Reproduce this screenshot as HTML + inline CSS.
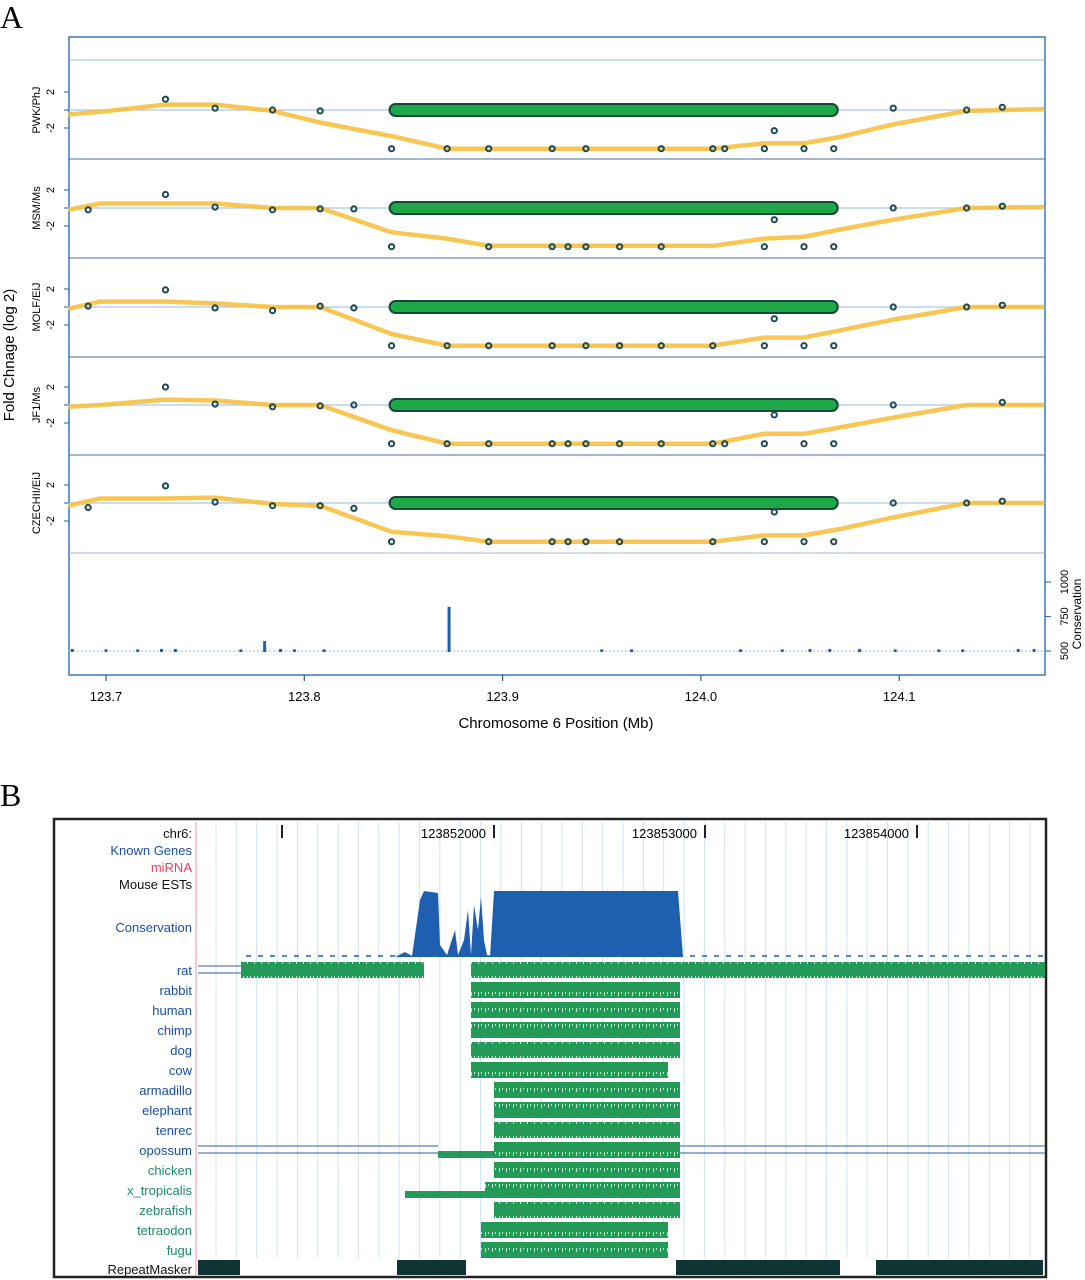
<!DOCTYPE html>
<html><head><meta charset="utf-8"><style>
html,body{margin:0;padding:0;background:#fff;}
svg{display:block;font-family:"Liberation Sans",sans-serif;}
</style></head><body>
<svg id="fig" width="1085" height="1280" viewBox="0 0 1085 1280" xmlns="http://www.w3.org/2000/svg">
<defs>
<pattern id="jag" width="7" height="16" patternUnits="userSpaceOnUse">
<rect width="7" height="16" fill="#239a58"/>
<rect x="2" y="0" width="1" height="4" fill="#bfe3cc"/>
<rect x="5" y="0" width="1" height="2" fill="#bfe3cc"/>
</pattern>
</defs>
<text x="0" y="28" font-family="Liberation Serif,serif" font-size="32">A</text>
<text x="0" y="806" font-family="Liberation Serif,serif" font-size="32">B</text>
<g id="gA"></g>
<g id="gB"></g>
</svg>
<script>
// ---------- Panel A data ----------
const strains = ["PWK/PhJ","MSM/Ms","MOLF/EiJ","JF1/Ms","CZECHII/EiJ"];
const positions = [123.691,123.730,123.755,123.784,123.808,123.825,123.844,123.872,123.893,123.925,123.933,123.942,123.959,123.980,124.006,124.012,124.032,124.037,124.052,124.067,124.097,124.134,124.152];
const foldPWK   = [null,1.2,0.2,0,-0.1,null,-4.3,-4.3,-4.3,-4.3,null,-4.3,null,-4.3,-4.3,-4.3,-4.3,-2.3,-4.3,-4.3,0.2,0,0.3];
const foldMSM   = [-0.2,1.5,0.1,-0.2,-0.1,-0.1,-4.3,null,-4.3,-4.3,-4.3,-4.3,-4.3,-4.3,null,null,-4.3,-1.3,-4.3,-4.3,0,0,0.2];
const foldMOLF  = [0.1,1.9,-0.1,-0.4,0.1,-0.1,-4.3,-4.3,-4.3,-4.3,null,-4.3,-4.3,-4.3,-4.3,null,-4.3,-1.3,-4.3,-4.3,0,0,0.2];
const foldJF1   = [null,2.0,0.1,-0.2,-0.1,0,-4.3,-4.3,-4.3,-4.3,-4.3,-4.3,-4.3,-4.3,-4.3,-4.3,-4.3,-1.1,-4.3,-4.3,0,null,0.3];
const foldCZE   = [-0.5,1.9,0.1,-0.3,-0.3,-0.6,-4.3,null,-4.3,-4.3,-4.3,-4.3,-4.3,null,-4.3,null,-4.3,-1.0,-4.3,-4.3,0,0,0.2];
const foldSeries = [foldPWK,foldMSM,foldMOLF,foldJF1,foldCZE];
const curvePos = [123.681,123.697,123.730,123.755,123.784,123.808,123.844,123.872,123.893,124.006,124.032,124.052,124.070,124.097,124.134,124.173];
const curvePWK  = [-0.5,-0.2,0.6,0.6,-0.1,-1.4,-2.9,-4.3,-4.3,-4.3,-3.7,-3.7,-3.0,-1.6,-0.1,0.1];
const curveMSM  = [-0.2,0.5,0.5,0.5,0,0,-2.7,-3.4,-4.2,-4.2,-3.4,-3.2,-2.4,-1.3,0,0.1];
const curveMOLF = [-0.2,0.6,0.6,0.4,0,0,-3.0,-4.3,-4.3,-4.3,-3.4,-3.4,-2.6,-1.4,0,0];
const curveJF1  = [-0.2,0,0.6,0.5,0,0,-2.8,-4.3,-4.3,-4.3,-3.2,-3.2,-2.5,-1.4,0,0];
const curveCZE  = [-0.3,0.5,0.5,0.6,-0.1,-0.3,-3.2,-3.7,-4.3,-4.3,-3.6,-3.6,-2.9,-1.6,0,0];
const curveSeries = [curvePWK,curveMSM,curveMOLF,curveJF1,curveCZE];
const geneStart = 123.843, geneEnd = 124.069;
const xTicks = [123.7,123.8,123.9,124.0,124.1];
const xTickLabels = ["123.7","123.8","123.9","124.0","124.1"];
const consPos = [123.683,123.700,123.716,123.728,123.735,123.768,123.780,123.788,123.795,123.810,123.873,123.950,123.965,124.020,124.041,124.055,124.065,124.080,124.098,124.120,124.132,124.160,124.168];
const consVal = [515,512,512,515,515,512,572,515,512,512,820,512,512,512,512,515,515,515,512,512,512,515,515];
const consTicks = [500,750,1000];

const NS="http://www.w3.org/2000/svg";
function mk(parent,tag,attrs,text){const e=document.createElementNS(NS,tag);for(const k in attrs)e.setAttribute(k,attrs[k]);if(text!==undefined)e.textContent=text;parent.appendChild(e);return e;}
const gA=document.getElementById('gA');
const L=69,R=1045,T=37,B=675;
function xA(v){return 106+(v-123.7)*1983;}
const zeroY=[110,208,307,405,503];
function yA(p,v){return zeroY[p]-v*9;}
function yC(v){return 651-(v-500)*0.138;}

let e=mk(gA,'rect',{x:L,y:T,width:R-L,height:B-T,fill:'none',stroke:'#3a78b8','stroke-width':1.5});


[60,159,258,357,455,553].forEach((y,i)=>{const l=mk(gA,'line',{x1:L,x2:R,y1:y,y2:y,stroke:i==0||i==5?'#9bb8d6':'#4a6f96','stroke-width':1});

});
e=mk(gA,'text',{x:0,y:0,transform:'translate(14,355) rotate(-90)','text-anchor':'middle','font-size':15},'Fold Chnage (log 2)');



strains.forEach((s,p)=>{
  const g=mk(gA,'g',{});
  
  
  mk(g,'line',{x1:L,x2:R,y1:zeroY[p],y2:zeroY[p],stroke:'#a9c8e6','stroke-width':1.2});
  [2,0,-2].forEach(t=>{mk(g,'line',{x1:L-5,x2:L,y1:yA(p,t),y2:yA(p,t),stroke:'#3a78b8','stroke-width':1.2});
    if(t!==0){const tl=mk(g,'text',{transform:`translate(${L-15},${yA(p,t)}) rotate(-90)`,'text-anchor':'middle','font-size':11},t==2?'2':'-2');
    
    }});
  const lab=mk(g,'text',{transform:`translate(40,${zeroY[p]}) rotate(-90)`,'text-anchor':'middle','font-size':11},s);
  
  
  const pts=curvePos.map((c,i)=>xA(c).toFixed(1)+','+yA(p,curveSeries[p][i]).toFixed(1)).join(' ');
  const cv=mk(g,'polyline',{points:pts,fill:'none',stroke:'#f7c040','stroke-width':4.5,'stroke-linejoin':'round','stroke-opacity':0.9});
  
  
  const gb=mk(g,'rect',{x:xA(geneStart),y:zeroY[p]-6,width:xA(geneEnd)-xA(geneStart),height:12,rx:6,fill:'#1fa84a',stroke:'#17453a','stroke-width':2});
  
  
  positions.forEach((pos,i)=>{const v=foldSeries[p][i];if(v===null)return;
    const c=mk(g,'circle',{cx:xA(pos),cy:yA(p,v),r:2.6,fill:'none',stroke:'#1e4a52','stroke-width':2});
    
    });
});
mk(gA,'line',{x1:L,x2:R,y1:651,y2:651,stroke:'#a9c8e6','stroke-width':1.2,'stroke-dasharray':'2,2'});
consPos.forEach((c,i)=>{const b=mk(gA,'rect',{x:xA(c)-1.5,y:yC(consVal[i]),width:3,height:Math.max(2,651-yC(consVal[i])+1),fill:'#1f5fb0'});
  
  });
consTicks.forEach(t=>{mk(gA,'line',{x1:R,x2:R+6,y1:yC(t),y2:yC(t),stroke:'#3a78b8','stroke-width':1.2});
  const tl=mk(gA,'text',{transform:`translate(1068,${yC(t)}) rotate(-90)`,'text-anchor':'middle','font-size':11},String(t));
  
  });
e=mk(gA,'text',{transform:'translate(1081,614) rotate(-90)','text-anchor':'middle','font-size':12},'Conservation');


xTicks.forEach((t,i)=>{mk(gA,'line',{x1:xA(t),x2:xA(t),y1:B,y2:B+6,stroke:'#2b5a86','stroke-width':1.2});
  const tl=mk(gA,'text',{x:xA(t),y:701,'text-anchor':'middle','font-size':13},xTickLabels[i]);
  
  });
e=mk(gA,'text',{x:556,y:728,'text-anchor':'middle','font-size':15},'Chromosome 6 Position (Mb)');



// ---------- Panel B data ----------
const trackNames=["rat","rabbit","human","chimp","dog","cow","armadillo","elephant","tenrec","opossum","chicken","x_tropicalis","zebrafish","tetraodon","fugu"];
const trackStarts=[[241,471],[471],[471],[471],[471],[471],[494],[494],[494],[438,494],[494],[405,485],[494],[481],[481]];
const trackEnds=[[424,1045],[680],[680],[680],[680],[668],[680],[680],[680],[494,680],[680],[485,680],[680],[668],[668]];
const trackThin=[[0,0],[0],[0],[0],[0],[0],[0],[0],[0],[1,0],[0],[1,0],[0],[0],[0]];
const repStarts=[198,397,676,876], repEnds=[240,466,840,1043];
const coordTicks=[282,494,705,917];
const coordLabels=["","123852000","123853000","123854000"];

const gB=document.getElementById('gB');
e=mk(gB,'rect',{x:54,y:819,width:992,height:458,fill:'none',stroke:'#222','stroke-width':2.5});


for(let x=216;x<1045;x+=20.35){mk(gB,'line',{x1:x,x2:x,y1:822,y2:1258,stroke:'#cfe3f3','stroke-width':1});}
mk(gB,'line',{x1:196,x2:196,y1:822,y2:1275,stroke:'#f2a0b0','stroke-width':1.2});
coordTicks.forEach((x,i)=>{mk(gB,'line',{x1:x,x2:x,y1:825,y2:838,stroke:'#223','stroke-width':2});
  if(coordLabels[i]){const t=mk(gB,'text',{x:x-8,y:838,'text-anchor':'end','font-size':13},coordLabels[i]);
  
  }});
function lbl(txt,y,col,name){const t=mk(gB,'text',{x:192,y:y,'text-anchor':'end','font-size':13,fill:col},txt);
  
  }
lbl('chr6:',838,'#111','chr6-label');
lbl('Known Genes',855,'#1a4fa0','known-genes-label');
lbl('miRNA',872,'#e8405a','mirna-label');
lbl('Mouse ESTs',889,'#111','mouse-ests-label');
lbl('Conservation',932,'#1a4fa0','conservation-label');
mk(gB,'line',{x1:246,x2:1045,y1:956,y2:956,stroke:'#1f5fb0','stroke-width':1.5,'stroke-dasharray':'5,7'});
e=mk(gB,'path',{d:'M395,957 L405,952 L412,956 L420,900 L424,891 L438,893 L440,945 L447,955 L455,930 L458,955 L464,940 L468,910 L471,955 L474,905 L478,930 L481,897 L484,940 L487,955 L490,957 L494,891 L678,891 L683,957 Z',fill:'#1f5fb0'});


trackNames.forEach((n,i)=>{const y=970+i*20;const col=i>=10?'#1e8a6a':'#1a4fa0';
  lbl(n,y+5,col,n+'-label');
  trackStarts[i].forEach((s,j)=>{const en=trackEnds[i][j];const thin=trackThin[i][j];
    const r=mk(gB,'rect',{x:s,y:thin?y+1:y-8,width:en-s,height:thin?7:16,fill:thin?'#239a58':'url(#jag)'});
    
    });
});
[[198,241,970],[198,438,1150],[680,1045,1150]].forEach(d=>{mk(gB,'line',{x1:d[0],x2:d[1],y1:d[2]-4,y2:d[2]-4,stroke:'#2b5fa0','stroke-width':1});
  mk(gB,'line',{x1:d[0],x2:d[1],y1:d[2]+3,y2:d[2]+3,stroke:'#2b5fa0','stroke-width':1});});
lbl('RepeatMasker',1274,'#111','repeatmasker-label');
repStarts.forEach((s,i)=>{const r=mk(gB,'rect',{x:s,y:1260,width:repEnds[i]-s,height:15,fill:'#0e3434'});
  
  });
</script>
</body></html>
